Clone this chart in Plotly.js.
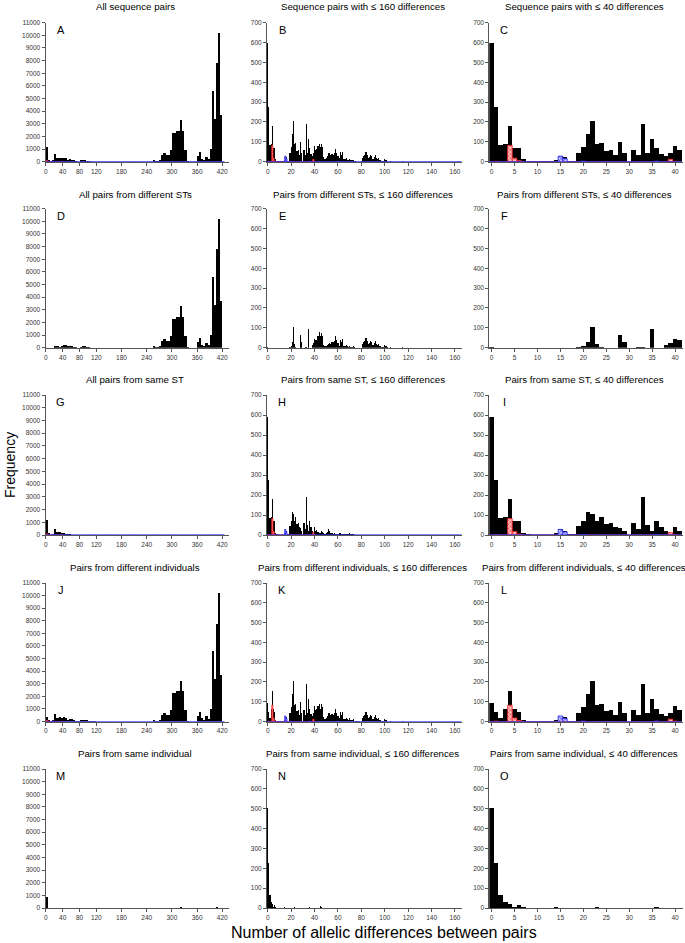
<!DOCTYPE html>
<html>
<head>
<meta charset="utf-8">
<script src="https://cdn.plot.ly/plotly-3.0.1.min.js"></script>
<style>
  body { margin: 0; background: #fff; }
  #chart { width: 685px; height: 943px; }
</style>
</head>
<body>
<div id="chart"></div>
<script>
// bins: 5-wide bins for the 0-420 panels, single differences for the others
const wideBins = Array.from({ length: 85 }, (_, i) => i * 5);
const fineBins = Array.from({ length: 166 }, (_, i) => i);

// left column, frequency per 5-difference bin (0, 5, 10 ... 420)
const allWide = [
  1200, 150, 20, 100, 600, 300, 330, 300, 330, 320, 150, 200, 170, 100, 60, 15, 100, 130, 120, 90,
  30, 10, 3, 3, 0, 0, 0, 0, 0, 0, 0, 0, 0, 0, 0, 0, 0, 0, 0, 0,
  0, 0, 0, 0, 0, 0, 0, 0, 0, 0, 0, 150, 30, 20, 100, 500, 650, 550, 550, 950,
  2300, 2250, 2450, 2400, 3300, 2400, 900, 50, 0, 0, 0, 0, 450, 750, 250, 150, 400, 200, 1000, 5600,
  3400, 7800, 10200, 3700, 0
];
const diffStWide = [
  5, 0, 0, 3, 150, 100, 80, 110, 200, 220, 130, 150, 130, 80, 40, 10, 90, 130, 110, 70,
  20, 8, 2, 2, 0, 0, 0, 0, 0, 0, 0, 0, 0, 0, 0, 0, 0, 0, 0, 0,
  0, 0, 0, 0, 0, 0, 0, 0, 0, 0, 0, 150, 30, 20, 100, 500, 650, 550, 550, 950,
  2300, 2250, 2450, 2400, 3300, 2400, 900, 50, 0, 0, 0, 0, 450, 750, 250, 150, 400, 200, 1000, 5600,
  3400, 7800, 10200, 3700, 0
];
const sameStWide = [
  1200, 150, 20, 100, 450, 200, 250, 190, 130, 100, 50, 50, 30, 20, 20, 5, 10, 0, 10, 20,
  10, 2, 1, 1, 0, 0, 0, 0, 0, 0, 0, 0, 0, 0, 0, 0, 0, 0, 0, 0,
  0, 0, 0, 0, 0, 0, 0, 0, 0, 0, 0, 0, 0, 0, 0, 0, 0, 0, 0, 0,
  0, 0, 0, 0, 0, 0, 0, 0, 0, 0, 0, 0, 0, 0, 0, 0, 0, 0, 0, 0,
  0, 0, 0, 0, 0
];
const diffIndWide = [
  380, 120, 15, 95, 590, 300, 330, 300, 320, 310, 150, 200, 170, 100, 60, 15, 100, 130, 120, 90,
  30, 10, 3, 3, 0, 0, 0, 0, 0, 0, 0, 0, 0, 0, 0, 0, 0, 0, 0, 0,
  0, 0, 0, 0, 0, 0, 0, 0, 0, 0, 0, 150, 30, 20, 100, 500, 650, 550, 550, 950,
  2300, 2250, 2450, 2400, 3250, 2400, 900, 50, 0, 0, 0, 0, 450, 750, 250, 150, 400, 200, 1000, 5600,
  3400, 7750, 10200, 3700, 0
];
const sameIndWide = [
  850, 25, 5, 0, 8, 3, 0, 5, 0, 13, 0, 0, 2, 0, 0, 0, 0, 0, 0, 0,
  0, 0, 0, 0, 0, 0, 0, 0, 0, 0, 0, 0, 0, 0, 0, 0, 0, 0, 0, 0,
  0, 0, 0, 0, 0, 0, 0, 0, 0, 0, 0, 0, 0, 0, 0, 0, 0, 0, 0, 0,
  0, 0, 0, 0, 50, 0, 0, 0, 0, 0, 0, 0, 0, 0, 0, 0, 0, 0, 0, 0,
  0, 50, 0, 0, 0
];
const redWide = [85, 23, 0, 0, 0, 0, 0, 12];
const blueWide = [
  0, 0, 0, 43, 3, 0, 0, 3, 0, 0, 0, 0, 3, 0, 0, 0, 0, 0, 0, 0,
  0, 0, 0, 0, 0, 0, 0, 0, 0, 0, 0, 0, 0, 0, 0, 0, 0, 0, 0, 0,
  0, 0, 0, 0, 0, 0, 0, 0, 0, 0, 0, 0, 0, 0, 0, 0, 0, 0, 0, 0,
  0, 0, 0, 0, 0, 0, 0, 0, 0, 0, 0, 0, 0, 0, 0, 0, 0, 0, 0, 0,
  0, 0, 0, 0, 0
];

// middle and right columns, frequency per number of differences (0 ... 165)
const allFine = [
  600, 275, 85, 90, 178, 68, 68, 12, 3, 2, 2, 2, 2, 2, 10, 30, 22, 5, 5, 45,
  75, 140, 205, 90, 92, 55, 58, 35, 98, 45, 0, 60, 33, 190, 45, 115, 70, 40, 30, 42,
  80, 60, 65, 80, 90, 75, 90, 75, 25, 15, 20, 30, 45, 45, 32, 40, 35, 43, 65, 43,
  30, 18, 48, 33, 50, 15, 13, 17, 11, 8, 16, 8, 7, 11, 4, 2, 1, 1, 1, 0,
  2, 20, 30, 35, 50, 35, 20, 25, 35, 30, 15, 25, 35, 20, 15, 20, 10, 5, 3, 2,
  15, 8, 2, 0, 0, 2, 0, 0, 0, 0, 0, 0, 0, 0, 0, 2, 0, 0, 0, 0,
  0, 0, 0, 0, 0, 0, 0, 0, 0, 0, 0, 0, 0, 0, 0, 0, 0, 0, 0, 0,
  0, 0, 0, 0, 0, 0, 0, 0, 0, 0, 0, 0, 0, 0, 0, 0, 0, 0, 0, 0,
  0, 0, 0, 0, 0, 0
];
const diffStFine = [
  5, 0, 0, 0, 0, 0, 0, 0, 0, 0, 0, 0, 0, 0, 0, 0, 0, 0, 0, 3,
  8, 28, 105, 20, 5, 0, 0, 0, 65, 28, 0, 0, 5, 5, 0, 95, 0, 0, 15, 22,
  42, 40, 40, 60, 80, 60, 75, 60, 15, 10, 10, 15, 20, 25, 20, 30, 30, 35, 60, 40,
  25, 10, 40, 30, 45, 10, 10, 12, 8, 5, 8, 3, 2, 8, 2, 0, 0, 0, 0, 0,
  0, 20, 30, 35, 50, 35, 20, 25, 35, 30, 15, 25, 35, 20, 15, 20, 10, 5, 3, 2,
  15, 8, 2, 0, 0, 2, 0, 0, 0, 0, 0, 0, 0, 0, 0, 2, 0, 0, 0, 0,
  0, 0, 0, 0, 0, 0, 0, 0, 0, 0, 0, 0, 0, 0, 0, 0, 0, 0, 0, 0,
  0, 0, 0, 0, 0, 0, 0, 0, 0, 0, 0, 0, 0, 0, 0, 0, 0, 0, 0, 0,
  0, 0, 0, 0, 0, 0
];
const sameStFine = [
  592, 275, 85, 92, 178, 70, 70, 12, 3, 2, 2, 2, 2, 2, 10, 32, 22, 5, 5, 45,
  68, 113, 105, 72, 88, 55, 58, 38, 35, 18, 0, 60, 30, 188, 48, 18, 72, 40, 18, 12,
  38, 20, 25, 15, 10, 10, 20, 15, 10, 5, 10, 15, 28, 20, 12, 10, 5, 8, 5, 3,
  5, 8, 8, 3, 5, 5, 3, 5, 3, 3, 8, 5, 5, 3, 2, 2, 1, 1, 1, 0,
  0, 0, 0, 0, 0, 0, 0, 0, 0, 0, 0, 0, 0, 0, 0, 0, 0, 0, 0, 0,
  0, 0, 0, 0, 0, 0, 0, 0, 0, 0, 0, 0, 0, 0, 0, 0, 0, 0, 0, 0,
  0, 0, 0, 0, 0, 0, 0, 0, 0, 0, 0, 0, 0, 0, 0, 0, 0, 0, 0, 0,
  0, 0, 0, 0, 0, 0, 0, 0, 0, 0, 0, 0, 0, 0, 0, 0, 0, 0, 0, 0,
  0, 0, 0, 0, 0, 0
];
const diffIndFine = [
  95, 48, 18, 65, 155, 62, 50, 10, 3, 2, 2, 2, 2, 2, 8, 30, 22, 5, 5, 45,
  75, 140, 205, 85, 90, 55, 58, 35, 98, 45, 0, 60, 33, 190, 45, 115, 65, 40, 28, 42,
  80, 60, 65, 80, 90, 65, 87, 75, 25, 15, 20, 30, 45, 45, 32, 40, 35, 43, 65, 43,
  30, 18, 48, 31, 50, 15, 13, 17, 11, 8, 16, 8, 7, 11, 4, 2, 1, 1, 1, 0,
  2, 20, 30, 35, 50, 35, 20, 25, 35, 30, 15, 25, 35, 20, 15, 20, 10, 5, 3, 2,
  15, 8, 2, 0, 0, 2, 0, 0, 0, 0, 0, 0, 0, 0, 0, 2, 0, 0, 0, 0,
  0, 0, 0, 0, 0, 0, 0, 0, 0, 0, 0, 0, 0, 0, 0, 0, 0, 0, 0, 0,
  0, 0, 0, 0, 0, 0, 0, 0, 0, 0, 0, 0, 0, 0, 0, 0, 0, 0, 0, 0,
  0, 0, 0, 0, 0, 0
];
const sameIndFine = [
  505, 228, 65, 28, 22, 5, 15, 3, 0, 0, 0, 0, 0, 0, 5, 0, 0, 0, 0, 0,
  0, 0, 2, 5, 2, 0, 0, 2, 0, 0, 0, 0, 0, 0, 0, 0, 5, 0, 0, 0,
  0, 0, 0, 0, 0, 10, 3, 0, 0, 0, 0, 0, 0, 0, 0, 0, 0, 0, 0, 0,
  0, 0, 0, 2, 0, 0, 0, 0, 0, 0, 0, 0, 0, 0, 0, 0, 0, 0, 0, 0,
  0, 0, 0, 0, 0, 0, 0, 0, 0, 0, 0, 0, 0, 0, 0, 0, 0, 0, 0, 0,
  0, 0, 0, 0, 0, 0, 0, 0, 0, 0, 0, 0, 0, 0, 0, 0, 0, 0, 0, 0,
  0, 0, 0, 0, 0, 0, 0, 0, 0, 0, 0, 0, 0, 0, 0, 0, 0, 0, 0, 0,
  0, 0, 0, 0, 0, 0, 0, 0, 0, 0, 0, 0, 0, 0, 0, 0, 0, 0, 0, 0,
  0, 0, 0, 0, 0, 0
];
// hatched red / blue subsets
const redFine = [
  0, 2, 0, 0, 82, 18, 5, 0, 0, 0, 0, 0, 0, 0, 0, 0, 0, 0, 0, 0,
  0, 0, 0, 0, 0, 0, 0, 0, 0, 0, 0, 0, 0, 0, 0, 0, 0, 0, 0, 12,
  2, 0
];
const blueFine = [
  0, 0, 0, 0, 0, 0, 0, 0, 0, 0, 0, 0, 0, 0, 0, 28, 15, 0, 0, 0,
  3, 0, 0, 0, 0, 0, 0, 0, 0, 0, 0, 0, 0, 0, 0, 0, 3, 0, 0, 0,
  0, 0, 0, 0, 0, 0, 0, 0, 0, 0, 0, 0, 0, 0, 0, 0, 0, 0, 0, 0,
  3, 0, 0, 0, 0, 0, 0, 0, 0, 0, 0, 0, 0, 0, 0, 0, 0, 0, 0, 0,
  0, 0, 0, 0, 0, 0, 0, 0, 0, 0, 0, 0, 0, 0, 0, 0, 0, 0, 0, 0,
  0, 0, 0, 0, 0, 0, 0, 0, 0, 0, 0, 0, 0, 0, 0, 0, 0, 0, 0, 0,
  0, 0, 0, 0, 0, 0, 0, 0, 0, 0, 0, 0, 0, 0, 0, 0, 0, 0, 0, 0,
  0, 0, 0, 0, 0, 0, 0, 0, 0, 0, 0, 0, 0, 0, 0, 0, 0, 0, 0, 0,
  0, 0, 0, 0, 0, 0
];

const rowTitles = [
  ['All sequence pairs', 'Sequence pairs with \u2264 160 differences', 'Sequence pairs with \u2264 40 differences'],
  ['All pairs from different STs', 'Pairs from different STs, \u2264 160 differences', 'Pairs from different STs, \u2264 40 differences'],
  ['All pairs from same ST', 'Pairs from same ST, \u2264 160 differences', 'Pairs from same ST, \u2264 40 differences'],
  ['Pairs from different individuals', 'Pairs from different individuals, \u2264 160 differences', 'Pairs from different individuals, \u2264 40 differences'],
  ['Pairs from same individual', 'Pairs from same individual, \u2264 160 differences', 'Pairs from same individual, \u2264 40 differences']
];
const letters = 'ABCDEFGHIJKLMNO';
const wideRows = [allWide, diffStWide, sameStWide, diffIndWide, sameIndWide];
const fineRows = [allFine, diffStFine, sameStFine, diffIndFine, sameIndFine];
const hatched = [true, false, true, true, false];

const W = 685, H = 943;
const colPx = [[45.5, 229], [267, 462], [489.3, 683.3]];
const rowPx = [[22.7, 161.7], [208.7, 347.7], [395, 535], [583, 721.5], [769, 908]];
const titleY = [6, 195, 380, 567, 753];

const px = v => v / W;
const py = v => 1 - v / H;

const data = [];
const layout = {
  width: W, height: H,
  margin: { l: 0, r: 0, t: 0, b: 0 },
  paper_bgcolor: '#fff', plot_bgcolor: 'rgba(0,0,0,0)',
  showlegend: false,
  barmode: 'overlay',
  bargap: 0,
  font: { family: 'Liberation Sans, Arial, sans-serif', color: '#000' },
  annotations: []
};

const axisStyle = {
  showline: true, linecolor: '#555', linewidth: 1,
  ticks: 'outside', ticklen: 3, tickcolor: '#555',
  tickfont: { size: 6.5, color: '#333' }, tickformat: 'd',
  showgrid: false, zeroline: false, fixedrange: true
};

const redMarker = {
  color: '#ffb0b0',
  line: { color: '#ff2020', width: 0.8 },
  pattern: { shape: 'x', fgcolor: '#ff3030', bgcolor: '#ffc4c4', size: 3, solidity: 0.35 }
};
const blueMarker = {
  color: '#b0b0ff',
  line: { color: '#3030ff', width: 0.8 },
  pattern: { shape: 'x', fgcolor: '#3030ff', bgcolor: '#c4c4ff', size: 3, solidity: 0.35 }
};

for (let r = 0; r < 5; r++) {
  for (let c = 0; c < 3; c++) {
    const n = r * 3 + c + 1;
    const xa = 'x' + n, ya = 'y' + n;
    let xs, ys, width, red, blue;
    if (c === 0) {
      xs = wideBins.map(b => b + 2.5);
      ys = wideRows[r];
      width = 5;
      red = redWide; blue = blueWide;
    } else {
      const count = c === 1 ? fineBins.length : 42;
      xs = fineBins.slice(0, count);
      ys = fineRows[r].slice(0, count);
      width = 1;
      red = redFine.slice(0, count); blue = blueFine.slice(0, count);
    }
    data.push({
      type: 'bar', x: xs, y: ys, width: width, xaxis: xa, yaxis: ya,
      marker: { color: '#000', line: { width: 0 } }, hoverinfo: 'skip'
    });
    if (hatched[r]) {
      data.push({ type: 'bar', x: xs.slice(0, red.length), y: red, width: width, xaxis: xa, yaxis: ya, marker: redMarker, hoverinfo: 'skip' });
      data.push({ type: 'bar', x: xs.slice(0, blue.length), y: blue, width: width, xaxis: xa, yaxis: ya, marker: blueMarker, hoverinfo: 'skip' });
    }

    const xDom = [px(colPx[c][0]), px(colPx[c][1])];
    const yDom = [py(rowPx[r][1]), py(rowPx[r][0])];
    let xaxis, yaxis;
    if (c === 0) {
      xaxis = { range: [-1, 436], tickvals: [0, 40, 80, 120, 180, 240, 300, 360, 420] };
      yaxis = { range: [0, 11000], tickvals: Array.from({ length: 12 }, (_, i) => i * 1000) };
    } else if (c === 1) {
      xaxis = { range: [-0.6, 166], tickvals: [0, 20, 40, 60, 80, 100, 120, 140, 160] };
      yaxis = { range: [0, 700], tickvals: [0, 100, 200, 300, 400, 500, 600, 700] };
    } else {
      xaxis = { range: [-0.5, 41.8], tickvals: [0, 5, 10, 15, 20, 25, 30, 35, 40] };
      yaxis = { range: [0, 700], tickvals: [0, 100, 200, 300, 400, 500, 600, 700] };
    }
    layout['xaxis' + n] = Object.assign({}, axisStyle, xaxis, { domain: xDom, anchor: ya, layer: 'below traces' });
    layout['yaxis' + n] = Object.assign({}, axisStyle, yaxis, { domain: yDom, anchor: xa });

    const centerX = (colPx[c][0] + colPx[c][1]) / 2;
    layout.annotations.push({
      text: rowTitles[r][c], xref: 'paper', yref: 'paper',
      x: px(centerX - 2), y: py(titleY[r]), xanchor: 'center', yanchor: 'middle',
      showarrow: false, font: { size: 9.7 }
    });
    layout.annotations.push({
      text: letters[n - 1], xref: 'paper', yref: 'paper',
      x: px(colPx[c][0] + 15), y: py(rowPx[r][0] + 7), xanchor: 'center', yanchor: 'middle',
      showarrow: false, font: { size: 11 }
    });
  }
}

layout.annotations.push({
  text: 'Frequency', xref: 'paper', yref: 'paper', x: px(10), y: py(465),
  xanchor: 'center', yanchor: 'middle', textangle: -90, showarrow: false, font: { size: 14 }
});
layout.annotations.push({
  text: 'Number of allelic differences between pairs', xref: 'paper', yref: 'paper',
  x: px(384), y: py(932), xanchor: 'center', yanchor: 'middle', showarrow: false, font: { size: 16 }
});

Plotly.newPlot('chart', data, layout, { staticPlot: true });
</script>
</body>
</html>
